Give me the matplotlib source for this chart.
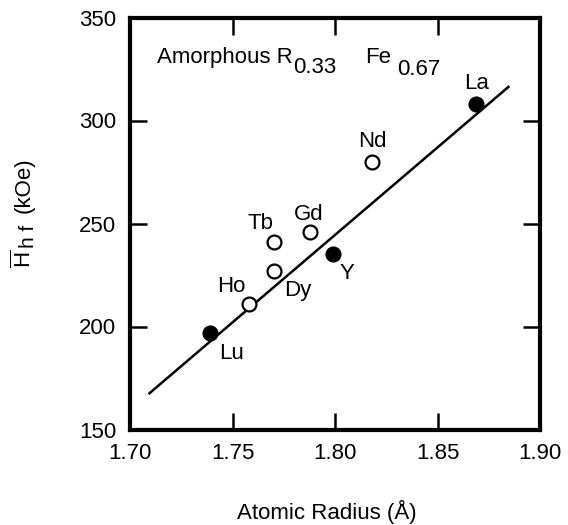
import matplotlib
matplotlib.use("Agg")
import matplotlib.pyplot as plt
import numpy as np

plt.rcParams['font.family'] = ['Liberation Sans', 'DejaVu Sans']
plt.rcParams['mathtext.fontset'] = 'custom'
plt.rcParams['mathtext.rm'] = 'Liberation Sans'
plt.rcParams['mathtext.it'] = 'Liberation Sans'

# hyperfine field vs atomic radius
elements = ['Lu', 'Ho', 'Dy', 'Tb', 'Gd', 'Y', 'Nd', 'La']
radius = [1.739, 1.758, 1.770, 1.770, 1.788, 1.799, 1.818, 1.869]
hhf = [197, 211, 227, 241, 246, 235, 280, 308]
filled = [True, False, False, False, False, True, False, True]
# label offsets in points
offsets = [(15.6, -15), (-12.5, 12.2), (17.8, -14.4), (-9, 13.5),
           (-1.2, 12.7), (9.9, -13.5), (0, 14.4), (0, 14.9)]

fit_x = [1.7095, 1.8846]
fit_y = [167.6, 316.3]

xticks = [1.70, 1.75, 1.80, 1.85, 1.90]
yticks = [150, 200, 250, 300, 350]

W, H = 568, 525
fig = plt.figure(figsize=(W / 100, H / 100), dpi=100)
ax = fig.add_axes([130 / W, 1 - 429.5 / H, 410 / W, 412 / H])

ax.plot(fit_x, fit_y, color='black', lw=1.8, zorder=1)

for name, x, y, f, off in zip(elements, radius, hhf, filled, offsets):
    ax.plot(x, y, 'o', ms=10, mec='black', mew=1.6,
            mfc='black' if f else 'white', zorder=2)
    ax.annotate(name, (x, y), xytext=off, textcoords='offset points',
                ha='center', va='center', fontsize=16)

ax.set_xlim(1.70, 1.90)
ax.set_ylim(150, 350)
ax.set_xticks(xticks)
ax.set_xticklabels([f'{t:.2f}' for t in xticks])
ax.set_yticks(yticks)
ax.tick_params(direction='in', length=12, width=1.8, labelsize=16,
               top=True, right=True, pad=10)
for s in ax.spines.values():
    s.set_linewidth(3)


def ftext(px, py, s, size=16, **kw):
    fig.text(px / W, 1 - py / H, s, fontsize=size, **kw)


# composition label
ftext(157, 63, 'Amorphous R', va='baseline')
ftext(293, 73, '0.33', va='baseline')
ftext(365, 63, 'Fe', va='baseline')
ftext(397, 75, '0.67', va='baseline')

ftext(327, 512, 'Atomic Radius (Å)', ha='center', va='center')

# y label built from pieces so the subscript stays large
ftext(24, 259, r'$\overline{\mathrm{H}}$', ha='center', va='center', rotation=90)
ftext(29, 236, 'h f', size=15, ha='center', va='center', rotation=90)
ftext(24, 185, '(kOe)', ha='center', va='center', rotation=90)

fig.savefig('out.png', dpi=100)
